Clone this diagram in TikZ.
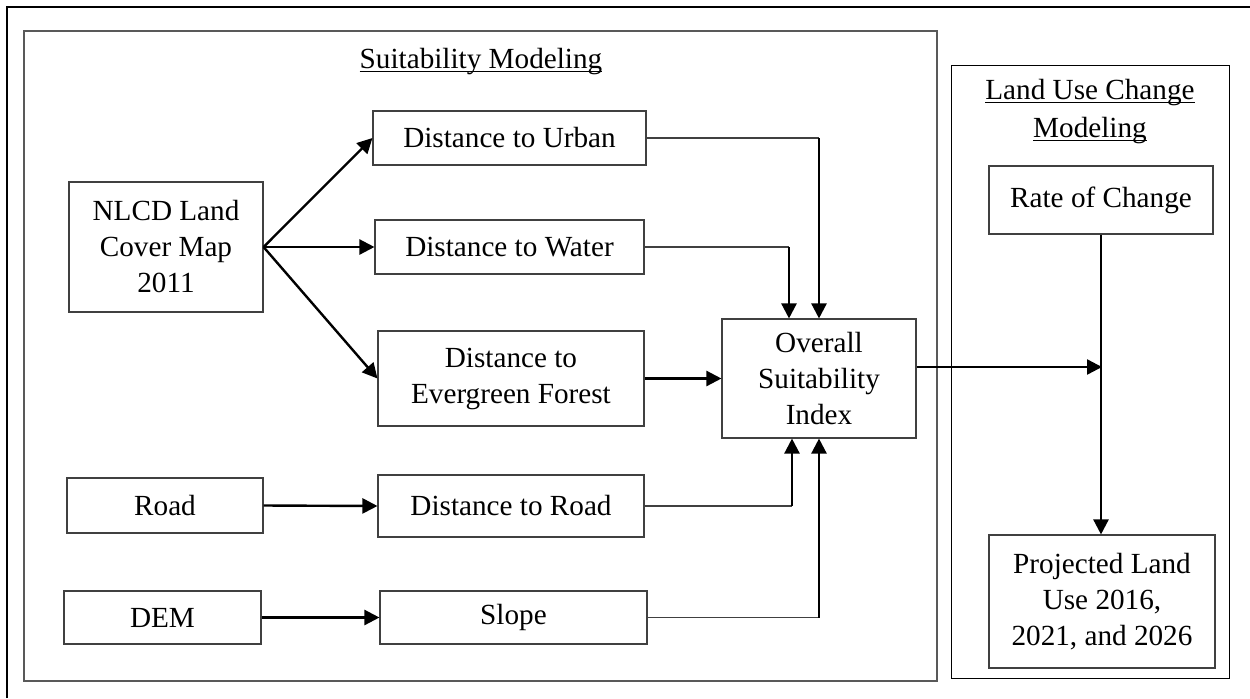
\documentclass[tikz,border=0pt]{standalone}
\usepackage{fontspec}
\setmainfont{Liberation Serif}
\usetikzlibrary{arrows.meta}
\newcommand{\diagfont}{\fontsize{14.6pt}{18pt}\selectfont}
\newcommand{\ulin}[1]{\setbox0\hbox{#1}\rlap{\rule[-0.15em]{\wd0}{0.05em}}\box0}
\begin{document}
\begin{tikzpicture}[x=0.5pt,y=-0.5pt,
  box/.style={draw=black!75, line width=0.55pt, inner sep=0pt, align=center, font=\diagfont, text=black},
  arr/.style={line width=1.2pt, -{Triangle[length=7.5pt,width=7.5pt]}},
  thinln/.style={line width=0.55pt, draw=black!75},
  titletext/.style={font=\diagfont, inner sep=0pt, anchor=base}]
\useasboundingbox (0,0) rectangle (1250,698);
% outer frame (clipped at right and bottom)
\draw[line width=1.1pt] (7,698) -- (7,7) -- (1250,7);
% group frames
\draw[draw=black!65, line width=0.65pt] (24,31) rectangle (937,681);
\draw[line width=0.5pt] (951,65) rectangle (1229,678);
% titles
\node[titletext] (suittitle) at (481,68) {\ulin{Suitability Modeling}};
\node[titletext] (lutitle1) at (1090,99) {\ulin{Land Use Change}};
\node[titletext] (lutitle2) at (1090,137) {\ulin{Modeling}};
% nodes
\node[box, minimum width=97pt, minimum height=65pt] (nlcd) at (166,247) {NLCD Land\\Cover Map\\2011};
\node[box, minimum width=136.5pt, minimum height=27pt] (urban) at (509.5,138) {Distance to Urban};
\node[box, minimum width=134.5pt, minimum height=27pt] (water) at (509.5,247) {Distance to Water};
\node[box, minimum width=133pt, minimum height=47.5pt] (everg) at (511,378.5) {Distance to\\Evergreen Forest};
\node[box, minimum width=98pt, minimum height=27.5pt] (road) at (165,505.5) {Road};
\node[box, minimum width=133pt, minimum height=31pt] (droad) at (511,506) {Distance to Road};
\node[box, minimum width=98.5pt, minimum height=26.5pt] (dem) at (162.5,617.5) {DEM};
\node[box, minimum width=133.5pt, minimum height=26.5pt] (slope) at (513.5,617.5) {Slope};
\node[box, minimum width=97pt, minimum height=59.5pt] (overall) at (819,378.5) {Overall\\Suitability\\Index};
\node[box, minimum width=112pt, minimum height=34pt] (rate) at (1101,200) {Rate of Change};
\node[box, minimum width=113pt, minimum height=66.5pt] (proj) at (1102,601.5) {Projected Land\\Use 2016,\\2021, and 2026};
% connectors
\draw[arr] (nlcd.east) -- (urban.west);
\draw[arr] (nlcd.east) -- (water.west);
\draw[arr] (nlcd.east) -- (everg.west);
\draw[arr] (road.east) -- (droad.west);
\draw[arr] (dem.east) -- (slope.west);
\draw[arr] (everg.east) -- (overall.west);
\coordinate (uc) at (819,138);
\draw[thinln] (urban.east) -- (uc);
\draw[arr] (uc) -- (overall.north);
\coordinate (wc) at (789,247);
\draw[thinln] (water.east) -- (wc);
\draw[arr] (wc) -- (wc |- overall.north);
\coordinate (rc) at (792,506);
\draw[thinln] (droad.east) -- (rc);
\draw[arr] (rc) -- (rc |- overall.south);
\coordinate (sc) at (819,617.5);
\draw[thinln] (slope.east) -- (sc);
\draw[arr] (sc) -- (overall.south);
\coordinate (oc) at (1102,367);
\draw[arr] (overall.east |- oc) -- (oc);
\draw[arr] (rate.south) -- (rate.south |- proj.north);
\end{tikzpicture}
\end{document}
